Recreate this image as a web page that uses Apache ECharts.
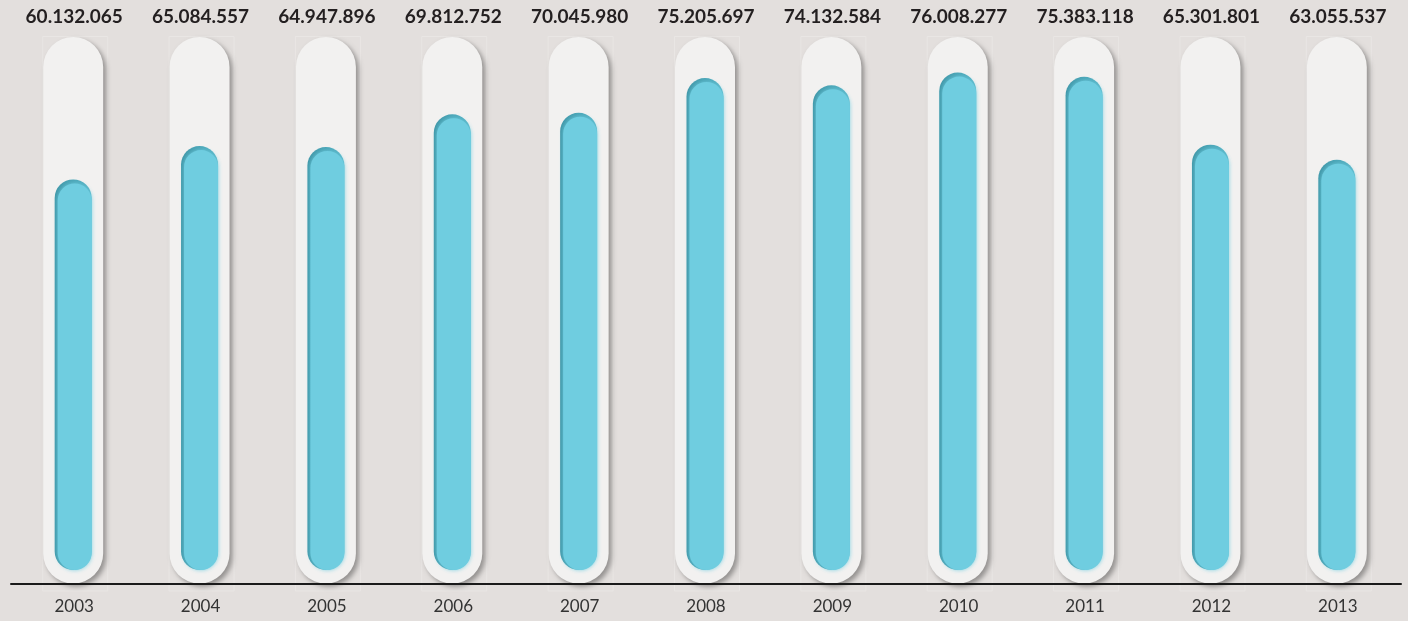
<!DOCTYPE html>
<html>
<head>
<meta charset="utf-8">
<script src="https://cdn.jsdelivr.net/npm/echarts@6/dist/echarts.min.js"></script>
<style>
html,body{margin:0;padding:0;background:#e3dfdd;}
#chart{width:1408px;height:621px;}
</style>
</head>
<body>
<div id="chart"></div>
<script>
const categories = ['2003','2004','2005','2006','2007','2008','2009','2010','2011','2012','2013'];
const values = [60132065, 65084557, 64947896, 69812752, 70045980, 75205697, 74132584, 76008277, 75383118, 65301801, 63055537];
const axisMax = 81300000;

function fmt(n){ return String(n).replace(/\B(?=(\d{3})+(?!\d))/g, '.'); }

const chart = echarts.init(document.getElementById('chart'), null, {renderer:'canvas'});

function renderItem(params, api){
  const idx = api.value(0);
  const v = api.value(1);
  const top = api.coord([idx, v]);
  const base = api.coord([idx, 0]);
  const capTopPt = api.coord([idx, axisMax]);
  const cx = top[0] - 1;
  const capW = 60, capTop = capTopPt[1], capBot = base[1] - 0.5;
  const inW = 37, inTop = top[1], inBot = base[1] - 14;
  const children = [];
  // faint frame
  children.push({type:'rect', shape:{x:cx-30.5, y:capTop-0.5, width:65, height:capBot-capTop+8}, style:{fill:'none', stroke:'#e9e6e4', lineWidth:1}, silent:true});
  // capsule with shadow
  children.push({type:'rect', shape:{x:cx-capW/2, y:capTop, width:capW, height:capBot-capTop, r:capW/2},
    style:{fill:'#f2f1f0', shadowBlur:5, shadowOffsetX:3, shadowOffsetY:3, shadowColor:'rgba(0,0,0,0.35)'}});
  // inner dark base (inner shadow)
  children.push({type:'rect', shape:{x:cx-inW/2, y:inTop, width:inW, height:inBot-inTop, r:inW/2},
    style:{fill:new echarts.graphic.LinearGradient(0,0,1,0,[{offset:0,color:'#3f96a7'},{offset:1,color:'#55b3c5'}])}});
  // inner light
  const lw = inW - 3;
  children.push({type:'rect', shape:{x:cx-inW/2+3, y:inTop+4, width:lw, height:inBot-inTop-4, r:lw/2},
    style:{fill:'#6fcde0', shadowBlur:4, shadowColor:'rgba(111,205,224,0.9)'}});
  // value label
  children.push({type:'text', style:{text:fmt(v), x:top[0], y:capTop-20, align:'center', verticalAlign:'middle',
    font:'bold 19px Lato, "Open Sans", sans-serif', fill:'#231f20'}});
  return {type:'group', children:children};
}

chart.setOption({
  backgroundColor:'#e3dfdd',
  animation:false,
  grid:{left:11, right:7, top:37, bottom:37},
  xAxis:{type:'category', data:categories,
    axisLine:{show:true, lineStyle:{color:'#1a1a1a', width:2}},
    axisTick:{show:false},
    axisLabel:{color:'#333', fontFamily:'Lato', fontSize:17, margin:14},
    z:10},
  yAxis:{type:'value', min:0, max:axisMax, show:false, splitLine:{show:false}},
  series:[{
    type:'custom',
    renderItem:renderItem,
    data: values.map((v,i)=>[i,v]),
    encode:{x:0, y:1},
    clip:false
  }]
});
</script>
</body>
</html>
